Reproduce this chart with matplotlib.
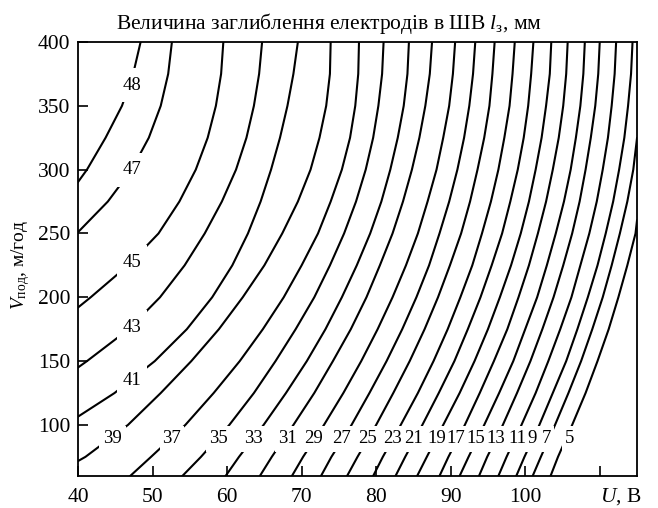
import numpy as np
import matplotlib.pyplot as plt
from matplotlib.patches import Rectangle

plt.rcParams['font.family'] = ['Liberation Serif', 'DejaVu Serif']
plt.rcParams['mathtext.fontset'] = 'custom'
plt.rcParams['mathtext.rm'] = 'Liberation Serif'
plt.rcParams['mathtext.it'] = 'Liberation Serif:italic'

# electrode depth levels, mm
levels = [48, 47, 45, 43, 41, 39, 37, 35, 33, 31, 29, 27, 25, 23, 21, 19, 17, 15, 13, 11, 9, 7, 5]

# feed speed rows, m/h, and the voltage where each level crosses them (nan = off the chart)
v_rows = [60, 75, 100, 125, 150, 175, 200, 225, 250, 275, 300, 325, 350, 375, 400]
nan = np.nan
u_at_rows = [
    [nan, nan, nan, nan, nan, nan, nan, nan, nan, nan, 41.2, 43.7, 45.9, 47.4, 48.4],      # 48
    [nan, nan, nan, nan, nan, nan, nan, nan, nan, 44.0, 47.2, 49.5, 51.1, 52.1, 52.6],     # 47
    [nan, nan, nan, nan, nan, nan, 41.7, 46.7, 50.8, 53.6, 55.8, 57.4, 58.5, 59.2, 59.5],  # 45
    [nan, nan, nan, nan, 41.2, 46.8, 51.0, 54.3, 57.0, 59.3, 61.2, 62.6, 63.6, 64.3, 64.7],  # 43
    [nan, nan, nan, 44.9, 50.3, 54.6, 58.0, 60.7, 62.8, 64.5, 65.9, 67.1, 68.1, 68.9, 69.5],  # 41
    [nan, 41.0, 46.7, 51.1, 55.2, 58.9, 62.1, 65.0, 67.4, 69.5, 71.2, 72.4, 73.3, 73.8, 73.9],  # 39
    [47.0, 49.8, 54.4, 58.2, 61.7, 64.8, 67.6, 70.0, 72.2, 73.9, 75.4, 76.5, 77.2, 77.6, 77.7],
    [54.0, 56.5, 60.3, 63.6, 66.5, 69.2, 71.7, 73.8, 75.7, 77.3, 78.6, 79.6, 80.3, 80.8, 81.0],
    [59.8, 61.6, 64.9, 67.9, 70.7, 73.2, 75.4, 77.4, 79.2, 80.7, 81.9, 82.9, 83.7, 84.2, 84.4],
    [64.4, 66.0, 68.9, 71.7, 74.2, 76.6, 78.7, 80.5, 82.2, 83.6, 84.8, 85.8, 86.6, 87.2, 87.5],
    [68.7, 70.2, 73.0, 75.6, 78.0, 80.2, 82.2, 84.0, 85.6, 86.9, 88.1, 89.0, 89.8, 90.3, 90.6],
    [72.6, 74.0, 76.7, 79.1, 81.4, 83.5, 85.4, 87.1, 88.5, 89.8, 90.9, 91.8, 92.5, 93.0, 93.3],
    [76.1, 77.5, 80.0, 82.3, 84.5, 86.5, 88.3, 89.9, 91.4, 92.6, 93.6, 94.5, 95.2, 95.6, 95.9],
    [79.6, 80.9, 83.3, 85.6, 87.7, 89.6, 91.3, 92.9, 94.2, 95.4, 96.4, 97.2, 97.9, 98.3, 98.6],
    [82.6, 83.9, 86.2, 88.4, 90.5, 92.3, 94.0, 95.5, 96.9, 98.0, 99.0, 99.8, 100.4, 100.8, 101.1],
    [85.5, 86.8, 89.0, 91.2, 93.2, 95.0, 96.6, 98.1, 99.4, 100.5, 101.4, 102.2, 102.8, 103.3, 103.5],
    [88.5, 89.7, 91.9, 93.9, 95.8, 97.6, 99.1, 100.5, 101.7, 102.8, 103.7, 104.5, 105.1, 105.5, 105.7],
    [91.2, 92.4, 94.5, 96.5, 98.4, 100.0, 101.6, 102.9, 104.1, 105.2, 106.1, 106.8, 107.4, 107.8, 108.0],
    [93.8, 94.9, 97.0, 98.9, 100.7, 102.3, 103.8, 105.1, 106.3, 107.3, 108.1, 108.8, 109.4, 109.8, 110.0],
    [96.4, 97.5, 99.5, 101.4, 103.1, 104.7, 106.2, 107.4, 108.6, 109.6, 110.4, 111.1, 111.6, 112.0, 112.2],
    [98.8, 99.9, 101.9, 103.7, 105.5, 107.0, 108.4, 109.7, 110.8, 111.8, 112.6, 113.3, 113.8, 114.2, 114.4],
    [101.0, 102.1, 104.0, 105.8, 107.5, 109.0, 110.4, 111.6, 112.7, 113.7, 114.5, nan, nan, nan, nan],  # 7
    [103.4, 104.4, 106.3, 108.1, 109.7, 111.2, 112.5, 113.7, 114.8, nan, nan, nan, nan, nan, nan],      # 5
]

# where the curves leave through the side axes
left_exit_v = {48: 290.3, 47: 251.0, 45: 192.0, 43: 145.0, 41: 106.5, 39: 71.7}
right_exit_v = {7: 324.6, 5: 260.2}

# inline label spots (U, V)
label_spots = {
    48: (47.2, 366), 47: (47.2, 300), 45: (47.2, 227.5), 43: (47.2, 176.4), 41: (47.2, 134.5),
    39: (44.6, 89), 37: (52.6, 89), 35: (58.8, 89), 33: (63.5, 89), 31: (68.1, 89),
    29: (71.6, 89), 27: (75.3, 89), 25: (78.9, 89), 23: (82.2, 89), 21: (85.0, 89),
    19: (88.2, 89), 17: (90.7, 89), 15: (93.4, 89), 13: (96.0, 89), 11: (98.9, 89),
    9: (100.9, 89), 7: (102.9, 89), 5: (105.9, 89),
}

U_MIN, U_MAX = 40, 115
V_MIN, V_MAX = 60, 400
AX_W, AX_H = 559, 434  # axes size in pixels

fig = plt.figure(figsize=(6.58, 5.08), dpi=100)
ax = fig.add_axes([78 / 658, 1 - 476 / 508, AX_W / 658, AX_H / 508])

# pixel -> data scale, used to size the breaks cut in the lines under labels
u_per_px = (U_MAX - U_MIN) / AX_W
v_per_px = (V_MAX - V_MIN) / AX_H

for lev, row in zip(levels, u_at_rows):
    us, vs = [], []
    if lev in left_exit_v:
        us.append(U_MIN)
        vs.append(left_exit_v[lev])
    for u, v in zip(row, v_rows):
        if not np.isnan(u):
            us.append(u)
            vs.append(v)
    if lev in right_exit_v:
        us.append(U_MAX)
        vs.append(right_exit_v[lev])
    ax.plot(us, vs, color='black', lw=1.5, solid_joinstyle='round', zorder=2)

    lu, lv = label_spots[lev]
    if lv > 100:
        w_px, h_px = 30, 34
    elif lev == 39:
        w_px, h_px = 27, 26
    else:
        w_px, h_px = 9 * len(str(lev)) + 6, 26
    w, h = w_px * u_per_px, h_px * v_per_px
    ax.add_patch(Rectangle((lu - w / 2, lv - h / 2), w, h, fc='white', ec='none', zorder=2.5))
    ax.text(lu, lv, str(lev), ha='center', va='center', fontsize=13.5, zorder=3)

ax.set_xlim(U_MIN, U_MAX)
ax.set_ylim(V_MIN, V_MAX)
ax.set_xticks(range(40, 111, 10))
ax.set_xticklabels(['40', '50', '60', '70', '80', '90', '100', ''])
ax.set_yticks(range(100, 401, 50))
ax.tick_params(direction='in', length=7, width=1.2, labelsize=15.5)
ax.tick_params(axis='x', pad=9)
ax.tick_params(axis='y', pad=5.5)
for sp in ax.spines.values():
    sp.set_linewidth(1.3)
    sp.set_zorder(4)

ax.set_ylabel(r'$V_{\mathrm{под}}$, м/год', fontsize=14)
ax.yaxis.set_label_coords(-0.083, 0.486)
fig.text(621 / 658, 1 - 497 / 508, r'$U$, В', fontsize=15.5, ha='center', va='center')
fig.text(329 / 658, 1 - 29 / 508, r'Величина заглиблення електродів в ШВ $l_{\mathrm{з}}$, мм',
         fontsize=15.5, ha='center', va='baseline')

fig.savefig('out.png', dpi=100)
